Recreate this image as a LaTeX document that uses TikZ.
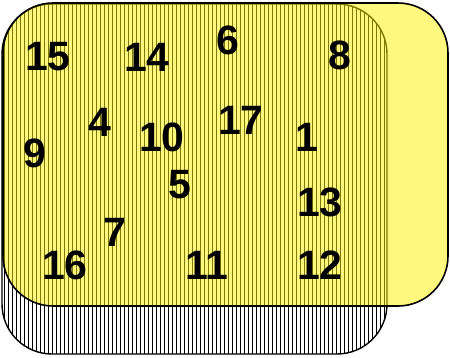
\documentclass[tikz,border=0pt]{standalone}
\usepackage{fontspec}
\setmainfont{Liberation Sans}
\begin{document}
\begin{tikzpicture}[x=1pt,y=-1pt,
  num/.style={font=\fontsize{41}{41}\selectfont\bfseries, inner sep=0pt},
  hatchrect/.style={rounded corners=50pt},
]
\useasboundingbox (0,0) rectangle (450,357);
% back hatched box
\fill[white, hatchrect] (2,4) rectangle (387,354);
\begin{scope}
  \clip[hatchrect] (2,4) rectangle (387,354);
  \foreach \x in {4,8,...,386} {
    \draw[black, line width=1pt] (\x,0) -- (\x,357);
  }
\end{scope}
\draw[black, line width=1.4pt, hatchrect] (2,4) rectangle (387,354);
% yellow translucent box
\fill[yellow, fill opacity=0.5, hatchrect] (3,3) rectangle (448,306);
\draw[black, line width=1.6pt, hatchrect] (3,3) rectangle (448,306);
% numbers
\node[num] (n15) at (48,57) {15};
\node[num] (n14) at (147,57) {14};
\node[num] (n6) at (228,40) {6};
\node[num] (n8) at (340,55) {8};
\node[num] (n4) at (100,122) {4};
\node[num] (n10) at (162,137) {10};
\node[num] (n17) at (241,120) {17};
\node[num] (n1) at (307,137) {1};
\node[num] (n9) at (35,153) {9};
\node[num] (n5) at (180,185) {5};
\node[num] (n13) at (320,202) {13};
\node[num] (n7) at (115,232) {7};
\node[num] (n16) at (65,265) {16};
\node[num] (n11) at (207,265) {11};
\node[num] (n12) at (320,265) {12};
\end{tikzpicture}
\end{document}
